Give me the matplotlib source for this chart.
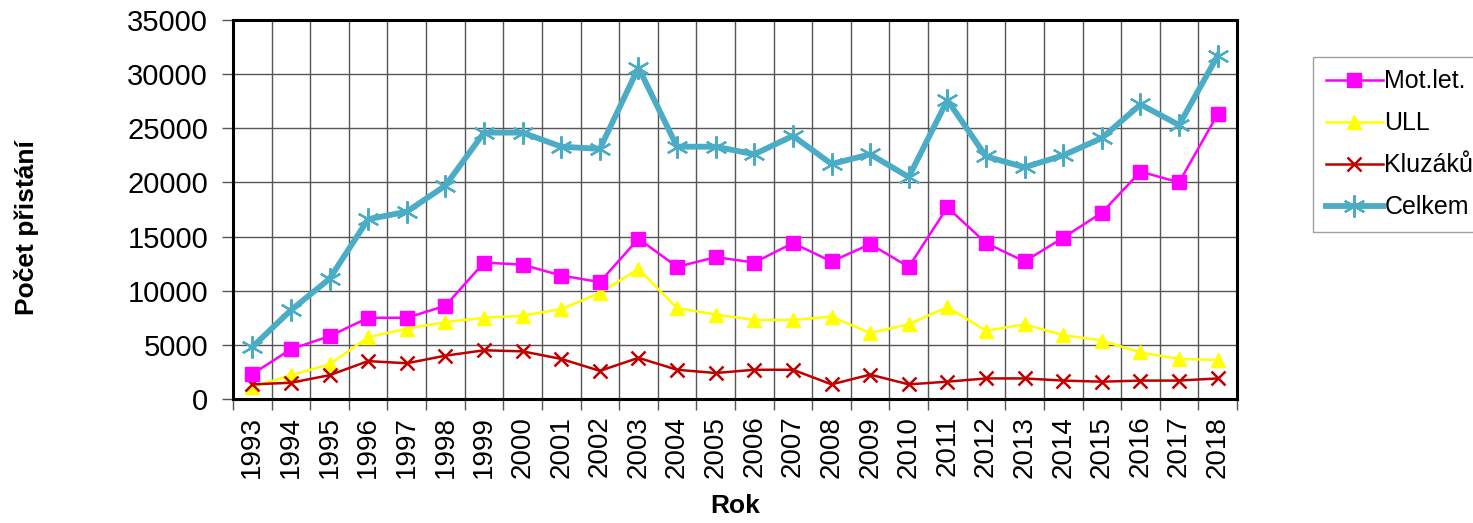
import matplotlib.pyplot as plt
import numpy as np

roky = list(range(1993, 2019))
mot_let = [2300, 4600, 5800, 7500, 7500, 8600, 12600, 12400, 11400, 10800, 14800,
           12200, 13100, 12600, 14400, 12700, 14300, 12200, 17700, 14400, 12700,
           14900, 17200, 21000, 20000, 26300]
ull = [1100, 2200, 3200, 5700, 6500, 7100, 7500, 7700, 8300, 9800, 12000,
       8400, 7800, 7300, 7300, 7600, 6100, 6900, 8500, 6300, 6900,
       5900, 5400, 4300, 3700, 3600]
kluzaky = [1350, 1500, 2200, 3500, 3300, 4000, 4500, 4400, 3700, 2600, 3800,
           2700, 2400, 2700, 2700, 1350, 2250, 1350, 1600, 1900, 1900,
           1700, 1600, 1700, 1700, 1900]
celkem = [4800, 8200, 11100, 16600, 17300, 19700, 24600, 24600, 23300, 23100, 30600,
          23300, 23300, 22600, 24300, 21700, 22600, 20500, 27600, 22400, 21400,
          22500, 24100, 27200, 25300, 31700]

plt.rcParams['font.family'] = ['Liberation Sans', 'DejaVu Sans']

fig = plt.figure(figsize=(14.73, 5.23), dpi=100)
ax = fig.add_axes([233/1473, 1 - 399/523, (1237 - 233)/1473, (399 - 20)/523])

ax.plot(roky, mot_let, color='#FF00FF', lw=1.8, marker='s', ms=10.5, label='Mot.let.', zorder=4)
ax.plot(roky, ull, color='#FFFF00', lw=1.8, marker='^', ms=10.5, label='ULL', zorder=3)
ax.plot(roky, kluzaky, color='#C00000', lw=1.8, marker='x', ms=10, mew=1.8, label='Kluzáků', zorder=3)
ax.plot(roky, celkem, color='#4BACC6', lw=4.2, marker=(6, 2, 0), ms=16, mew=1.6, label='Celkem', zorder=5)

ax.set_xlim(1992.5, 2018.5)
ax.set_ylim(0, 35000)
ax.set_yticks(np.arange(0, 35001, 5000))
ax.set_xticks(roky)
ax.set_xticklabels([str(r) for r in roky], rotation=90)
ax.set_xticks(np.arange(1992.5, 2019, 1), minor=True)
ax.tick_params(axis='x', which='major', length=0, labelsize=20, pad=12)
ax.tick_params(axis='x', which='minor', length=8, width=1, color='#555555')
ax.tick_params(axis='y', length=8, width=1, color='#555555', labelsize=21, pad=10)
ax.grid(True, axis='y', which='major', color='#555555', lw=1)
ax.grid(True, axis='x', which='minor', color='#555555', lw=1)
for s in ax.spines.values():
    s.set_linewidth(2.2)
    s.set_color('black')

ax.set_xlabel('Rok', fontsize=19, fontweight='bold', labelpad=12)
fig.text(27/1473, 1 - 228/523, 'Počet přistání', rotation=90, fontsize=19,
         fontweight='bold', ha='center', va='center')

leg = fig.legend(loc='upper left', bbox_to_anchor=(1313/1473, 1 - 57/523), fontsize=18,
                 frameon=True, fancybox=False, edgecolor='#888888', handlelength=2.3,
                 handletextpad=0.05, labelspacing=0.72, borderpad=0.5, borderaxespad=0)
leg.get_frame().set_linewidth(1)

fig.savefig('out.png', dpi=100)
